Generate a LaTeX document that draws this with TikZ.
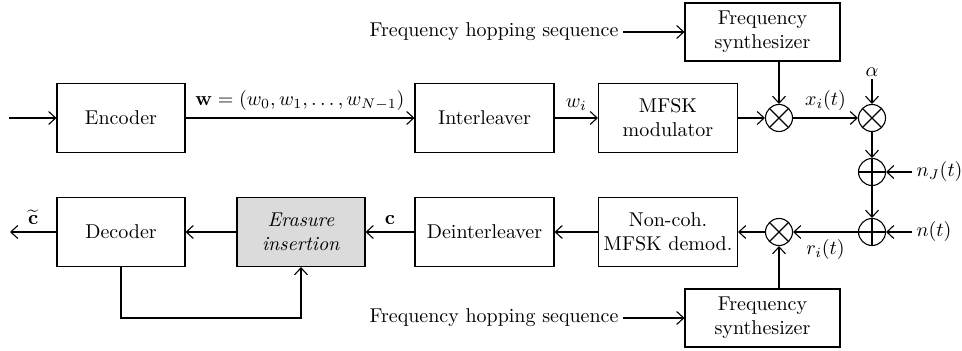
\documentclass[tikz,border=0pt]{standalone}
\usepackage{amsmath}
\usetikzlibrary{arrows.meta,positioning}

\begin{document}
\begin{tikzpicture}[x=0.5pt,y=-0.5pt, line width=0.55pt,
			block/.style={draw, minimum width=64pt, minimum height=34.5pt, align=center, inner sep=1pt},
			wide/.style={minimum width=69.5pt},
			synth/.style={draw, minimum width=77.5pt, minimum height=29pt, align=center, inner sep=1pt},
			mixer/.style={draw, circle, minimum size=13.5pt, inner sep=0pt,
				path picture={\draw (path picture bounding box.north west) -- (path picture bounding box.south east)
					(path picture bounding box.north east) -- (path picture bounding box.south west);}},
			adder/.style={draw, circle, minimum size=13.5pt, inner sep=0pt,
				path picture={\draw (path picture bounding box.north) -- (path picture bounding box.south)
					(path picture bounding box.west) -- (path picture bounding box.east);}},
			arrow/.style={-{Straight Barb[length=3.5pt,width=6.5pt]}}
			]
			\useasboundingbox (0,0) rectangle (962,351);
			\node[block] (enc) at (121,118)           {Encoder};
			\node[block, wide] (intl) at (484.5,118)  {Interleaver};
			\node[block, wide] (mod) at (668,118)     {MFSK\\modulator};
			\node[mixer] (mixA) at (779,118)          {};
			\node[mixer] (mixB) at (872,118)          {};
			\node[adder] (addJ) at (872,172)          {};
			\node[adder] (addN) at (872,232)          {};
			\node[mixer] (mixC) at (779,232)          {};
			\node[block, wide] (demod) at (668,232)   {Non-coh.\\MFSK demod.};
			\node[block, wide] (deintl) at (484.5,232) {Deinterleaver};
			\node[block, fill=gray!28] (eras) at (301,232) {\textit{Erasure}\\\textit{insertion}};
			\node[block] (dec) at (121,232)           {Decoder};
			\node[synth] (synthT) at (762.5,32)       {Frequency\\synthesizer};
			\node[synth] (synthB) at (762.5,318)      {Frequency\\synthesizer};
			\node[anchor=east, inner sep=2pt] (hopT) at (623,32)  {Frequency hopping sequence};
			\node[anchor=east, inner sep=2pt] (hopB) at (623,318) {Frequency hopping sequence};
			\node[inner sep=1pt] (alpha) at (872,72)  {$\alpha$};
			\node[anchor=west, inner sep=2pt] (nJ) at (912,172) {$n_J(t)$};
			\node[anchor=west, inner sep=2pt] (noise) at (912,232) {$n(t)$};
			\coordinate (in) at (9,118);
			\coordinate (out) at (10,232);
			
			\draw[arrow] (in) -- (enc);
			\draw[arrow] (enc) -- node[above]{$\mathbf{w}=(w_0,w_1,\dots,w_{N-1})$} (intl);
			\draw[arrow] (intl) -- node[above]{$w_i$} (mod);
			\draw[arrow] (mod) -- (mixA);
			\draw[arrow] (hopT) -- (synthT);
			\draw[arrow] (mixA |- synthT.south) -- (mixA);
			\draw[arrow] (mixA) -- node[above]{$x_i(t)$} (mixB);
			\draw[arrow] (alpha) -- (mixB);
			\draw[arrow] (mixB) -- (addJ);
			\draw[arrow] (nJ) -- (addJ);
			\draw[arrow] (addJ) -- (addN);
			\draw[arrow] (noise) -- (addN);
			\draw[arrow] (addN) -- node[below]{$r_i(t)$} (mixC);
			\draw[arrow] (hopB) -- (synthB);
			\draw[arrow] (mixC |- synthB.north) -- (mixC);
			\draw[arrow] (mixC) -- (demod);
			\draw[arrow] (demod) -- (deintl);
			\draw[arrow] (deintl) -- node[above]{$\mathbf{c}$} (eras);
			\draw[arrow] (eras) -- (dec);
			\draw[arrow] (dec) -- node[above]{$\widetilde{\mathbf{c}}$} (out);
			\draw[arrow] (dec.south) -- ++(0,51) -| (eras.south);
		\end{tikzpicture}
\end{document}
